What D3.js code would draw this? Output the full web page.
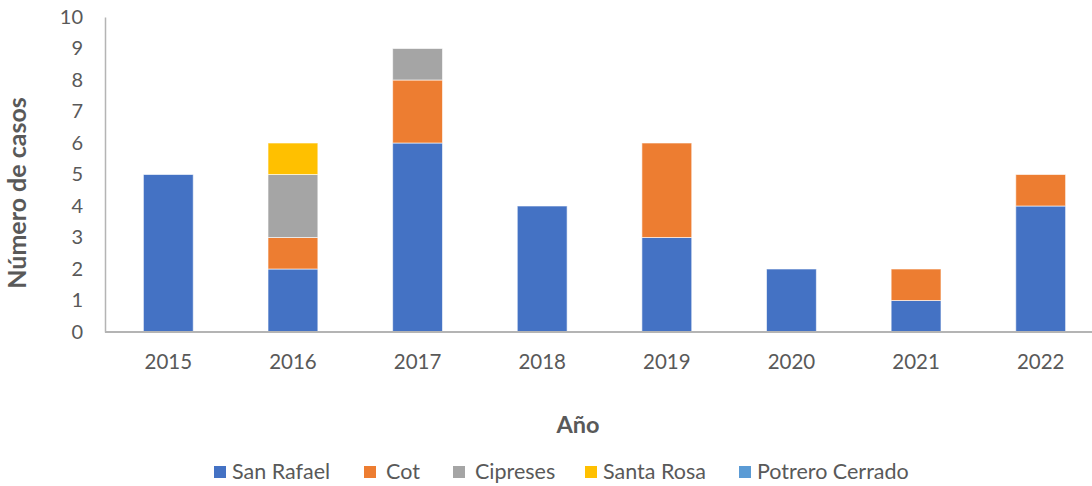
<!DOCTYPE html>
<html>
<head>
<meta charset="utf-8">
<script src="https://cdn.jsdelivr.net/npm/d3@7"></script>
<style>
  body { margin: 0; background: #fff; }
  svg { display: block; overflow: hidden; }
  text { font-family: Lato, "Open Sans", sans-serif; fill: #595959; }
</style>
</head>
<body>
<figure id="chart" style="margin:0"></figure>
<script>
const years = ["2015", "2016", "2017", "2018", "2019", "2020", "2021", "2022"];
const sanRafael = [5, 2, 6, 4, 3, 2, 1, 4];
const cot = [0, 1, 2, 0, 3, 0, 1, 1];
const cipreses = [0, 2, 1, 0, 0, 0, 0, 0];
const santaRosa = [0, 1, 0, 0, 0, 0, 0, 0];
const potreroCerrado = [0, 0, 0, 0, 0, 0, 0, 0];
const seriesNames = ["San Rafael", "Cot", "Cipreses", "Santa Rosa", "Potrero Cerrado"];
const yTicks = [0, 1, 2, 3, 4, 5, 6, 7, 8, 9, 10];

const colors = ["#4472C4", "#ED7D31", "#A5A5A5", "#FFC000", "#5B9BD5"];
const width = 1092, height = 486;

const svg = d3.select("#chart").append("svg")
  .attr("width", width)
  .attr("height", height);

// one row per year, keyed by series name, for d3.stack
const table = years.map((y, i) => ({
  year: y,
  "San Rafael": sanRafael[i],
  "Cot": cot[i],
  "Cipreses": cipreses[i],
  "Santa Rosa": santaRosa[i],
  "Potrero Cerrado": potreroCerrado[i]
}));
const stacked = d3.stack().keys(seriesNames)(table);

const x = d3.scaleBand().domain(years).range([106, 1103]).paddingInner(0.6).paddingOuter(0.3);
const y = d3.scaleLinear().domain([0, 10]).range([332, 17]);

// bars
svg.append("g").selectAll("g")
  .data(stacked)
  .join("g")
  .attr("fill", (d, i) => colors[i])
  .selectAll("rect")
  .data(d => d.filter(p => p[1] - p[0] > 0))
  .join("rect")
  .attr("x", d => x(d.data.year))
  .attr("width", x.bandwidth())
  .attr("y", d => y(d[1]))
  .attr("height", d => y(d[0]) - y(d[1]))
  .attr("stroke", "#fff")
  .attr("stroke-opacity", 0.6)
  .attr("stroke-width", 1);

// y axis
const yAxis = svg.append("g")
  .attr("transform", "translate(105,0)")
  .call(d3.axisLeft(y).tickValues(yTicks).tickSize(0).tickPadding(22).tickFormat(d3.format("d")));
yAxis.select(".domain").attr("stroke", "#B4B4B4").attr("stroke-width", 1.5);
yAxis.selectAll("text").style("font-size", "20px").attr("fill", "#595959");

// x axis
const xAxis = svg.append("g")
  .attr("transform", "translate(0,332)")
  .call(d3.axisBottom(x).tickSize(0).tickPadding(22));
xAxis.select(".domain").attr("d", "M105,0H1092").attr("stroke", "#B4B4B4").attr("stroke-width", 2);
xAxis.selectAll("text").style("font-size", "20.5px").attr("fill", "#595959");

// axis titles
svg.append("text")
  .attr("transform", "translate(26,193) rotate(-90)")
  .attr("text-anchor", "middle")
  .style("font-size", "25px")
  .style("font-weight", "bold")
  .text("Número de casos");

svg.append("text")
  .attr("x", 578)
  .attr("y", 433)
  .attr("text-anchor", "middle")
  .style("font-size", "23.5px")
  .style("font-weight", "bold")
  .text("Año");

// legend
const legendX = [214, 364, 453, 585, 739];
const legend = svg.append("g").selectAll("g")
  .data(seriesNames)
  .join("g")
  .attr("transform", (d, i) => `translate(${legendX[i]},466)`);
legend.append("rect")
  .attr("width", 12).attr("height", 12)
  .attr("fill", (d, i) => colors[i]);
legend.append("text")
  .attr("x", (d, i) => i === 0 || i >= 3 ? 18 : 22)
  .attr("y", 13)
  .style("font-size", "21.5px")
  .text(d => d);
</script>
</body>
</html>
